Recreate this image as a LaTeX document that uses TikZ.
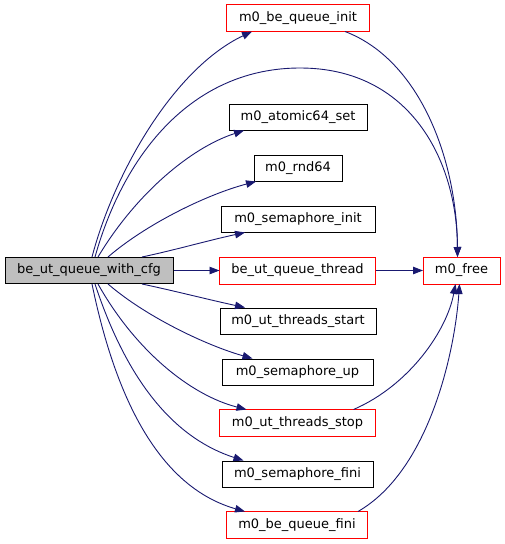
\documentclass[tikz,border=0pt]{standalone}
\usepackage{fontspec}
\setmainfont{DejaVu Sans}
\usetikzlibrary{arrows.meta}
\definecolor{edgec}{HTML}{191970}
\definecolor{boxred}{RGB}{255,0,0}
\begin{document}
\begin{tikzpicture}[x=1pt,y=-1pt,
  box/.style={rectangle,line width=1pt,minimum height=26pt,inner sep=0pt,font=\fontsize{13}{15}\selectfont,anchor=center},
  blackbox/.style={box,draw=black},
  redbox/.style={box},
  redframe/.style={draw=boxred,line width=1pt},
  mainbox/.style={box,draw=black,fill=black!25},
  edge/.style={draw=edgec,line width=0.9pt,-{Triangle[length=10pt,width=7.5pt]}}]
\useasboundingbox (0,0) rectangle (505,544);
\node[mainbox,minimum width=168pt] (main) at (89,270.5) {be\_ut\_queue\_with\_cfg};
\node[redbox,minimum width=142pt] (init) at (298,18) {m0\_be\_queue\_init};
\node[blackbox,minimum width=138pt] (atomic) at (298,117) {m0\_atomic64\_set};
\node[blackbox,minimum width=88pt] (rnd) at (298,168) {m0\_rnd64};
\node[blackbox,minimum width=154pt] (seminit) at (298,219) {m0\_semaphore\_init};
\node[redbox,minimum width=155pt] (thread) at (297.5,270.5) {be\_ut\_queue\_thread};
\node[blackbox,minimum width=156pt] (tstart) at (298,321) {m0\_ut\_threads\_start};
\node[blackbox,minimum width=151pt] (semup) at (297.5,372) {m0\_semaphore\_up};
\node[redbox,minimum width=155pt] (tstop) at (297.5,423) {m0\_ut\_threads\_stop};
\node[blackbox,minimum width=151pt] (semfini) at (297.5,474) {m0\_semaphore\_fini};
\node[redbox,minimum width=140pt] (fini) at (297,525) {m0\_be\_queue\_fini};
\node[redbox,minimum width=76pt] (free) at (461.5,270.5) {m0\_free};
\foreach \n in {init,thread,tstop,fini,free}
  \draw[redframe] (\n.north west) rectangle (\n.south east);

\draw[edge] ([xshift=3pt]main.north) .. controls (115,170) and (175,68) .. ([xshift=-46pt]init.south);
\draw[edge] ([xshift=6pt]main.north) .. controls (125,150) and (195,68) .. (300,68) .. controls (410,68) and (457,160) .. ([xshift=-4pt]free.north);
\draw[edge] ([xshift=9pt]main.north) .. controls (135,195) and (190,148) .. ([xshift=-54pt]atomic.south);
\draw[edge] ([xshift=19pt]main.north) .. controls (145,225) and (205,195) .. ([xshift=-42pt]rnd.south);
\draw[edge] ([xshift=53pt]main.north) .. controls (175,250) and (210,240) .. ([xshift=-53pt]seminit.south);
\draw[edge] (main.east) -- (thread.west);
\draw[edge] ([xshift=53pt]main.south) .. controls (175,291) and (210,300) .. ([xshift=-53pt]tstart.north);
\draw[edge] ([xshift=19pt]main.south) .. controls (145,316) and (205,345) .. ([xshift=-45pt]semup.north);
\draw[edge] ([xshift=9pt]main.south) .. controls (135,350) and (190,395) .. ([xshift=-51pt]tstop.north);
\draw[edge] ([xshift=6pt]main.south) .. controls (130,390) and (180,440) .. ([xshift=-54pt]semfini.north);
\draw[edge] ([xshift=3pt]main.south) .. controls (120,420) and (170,490) .. ([xshift=-52pt]fini.north);
\draw[edge] ([xshift=47pt]init.south) .. controls (420,60) and (457,160) .. ([xshift=-4pt]free.north);
\draw[edge] (thread.east) -- (free.west);
\draw[edge] ([xshift=56pt]tstop.north) .. controls (410,385) and (447,330) .. ([xshift=-6pt]free.south);
\draw[edge] ([xshift=61pt]fini.north) .. controls (430,470) and (455,350) .. ([xshift=-2pt]free.south);
\end{tikzpicture}
\end{document}
